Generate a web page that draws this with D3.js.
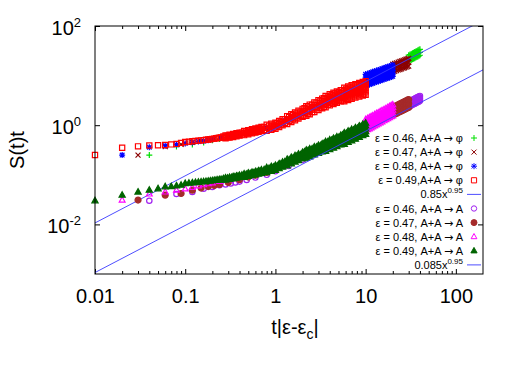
<!DOCTYPE html>
<html>
<head>
<meta charset="utf-8">
<script src="https://cdn.jsdelivr.net/npm/d3@7"></script>
<style>
  body { margin: 0; background: #fff; }
  text { font-family: "Liberation Sans", Arial, sans-serif; fill: #000; }
</style>
</head>
<body>
<svg id="chart" width="523" height="366"></svg>
<script>
// rows are [t|eps-eps_c|, S(t)t, S(t)t, ...] (several readings at the same x where the cloud is thick)
let phi46 = [
	[0.04,0.25],[0.08,0.37],[0.12,0.41],[0.16,0.45],[0.2,0.5],[0.24,0.53],[0.28,0.57],[0.4,0.66],[0.6,0.78],[0.8,0.88],
	[1,0.98],[1.5,1.4],[2,1.78],[3,2.55],[4,3.3],[6,4.5],[8,5.6],[10,7.5],[13,9.6],[16,11.5],[20,14],[24,16],[28,18],
	[30,19.5,22.4,25.8],[31,20.1,23.1,26.6],[32,20.7,23.8,27.4],[33,21.3,24.5,28.2],[34,21.9,25.2,29.0],[35,22.5,25.9,29.8],
	[36,23.2,26.7,30.7],[37,23.8,27.4,31.5],[38,24.4,28.1,32.3],[39,25.0,28.8,33.1],[40,25.7,29.5,33.9]
]
let phi47 = [
	[0.03,0.25],[0.06,0.37],[0.09,0.41],[0.12,0.45],[0.15,0.48],[0.18,0.51],[0.21,0.53],[0.24,0.56],[0.3,0.60],[0.4,0.66],
	[0.5,0.72],[0.6,0.78],[0.8,0.88],[1,0.98],[1.5,1.4],[2,1.78],[3,2.55],[4,3.3],[5,3.9],[6,4.5],[8,5.6],[10,7.0],
	[12,8.8],[14,10],[16,11.5],[18,12.8],
	[20,11.75,14.1,16.9],[21,12.2,14.6,17.5],[22,12.6,15.1,18.1],[23,13.0,15.6,18.7],[24,13.3,16.0,19.2],[25,13.7,16.4,19.7],
	[26,14.1,16.9,20.3],[27,14.4,17.3,20.8],[28,14.8,17.8,21.4],[29,15.2,18.2,21.8],[30,15.5,18.6,22.3]
]
let phi48 = [
	[0.02,0.25],[0.04,0.36],[0.06,0.385],[0.08,0.405],[0.10,0.43],[0.12,0.45],[0.14,0.47],[0.16,0.48],[0.18,0.50],[0.20,0.52],
	[0.25,0.55],[0.3,0.60],[0.4,0.66],[0.5,0.72],[0.6,0.78],[0.8,0.88],[1.0,0.98],[1.3,1.25],[1.6,1.48],[2.0,1.78],[2.5,2.2],
	[3,2.55],[4,3.3],[5,3.9],[6,4.4],[7,4.9],[8,5.4],[9,6.0],
	[10,6.25,7.13,8.13,9.27,10.6],[10.5,6.45,7.35,8.38,9.55,10.9],[11,6.64,7.57,8.63,9.84,11.2],[11.5,6.82,7.78,8.87,10.1,11.5],
	[12,7.02,8.0,9.12,10.4,11.9],[12.6,7.23,8.25,9.40,10.7,12.2],[13.2,7.45,8.49,9.68,11.0,12.6],[13.8,7.65,8.73,9.95,11.3,12.9],
	[14.5,7.89,9.0,10.26,11.7,13.3],[15.2,8.15,9.29,10.59,12.1,13.8],[16,8.42,9.6,10.94,12.5,14.2],[16.8,8.67,9.89,11.27,12.8,14.7],
	[17.6,8.93,10.2,11.61,13.2,15.1],[18.4,9.18,10.5,11.94,13.6,15.5],[19.2,9.42,10.7,12.25,14.0,15.9],[20,9.68,11.0,12.59,14.4,16.4]
]
let phi49 = [
	[0.01,0.25],[0.02,0.35],[0.03,0.375],[0.04,0.39],[0.05,0.395],[0.06,0.40],[0.07,0.41],[0.08,0.42],[0.09,0.44],
	[0.10,0.457],[0.11,0.466],[0.12,0.474],[0.13,0.482],[0.14,0.489],[0.15,0.495],[0.16,0.501],[0.17,0.508],[0.18,0.515],
	[0.19,0.522],[0.20,0.53],[0.21,0.537],[0.22,0.544],[0.23,0.551],[0.24,0.557],[0.25,0.564],
	[0.265,0.554,0.592],[0.28,0.544,0.582,0.623],[0.295,0.572,0.611],[0.31,0.561,0.600,0.642],[0.325,0.590,0.631],
	[0.34,0.580,0.621,0.664],[0.355,0.610,0.652],[0.37,0.599,0.641,0.686],[0.385,0.630,0.673],[0.40,0.619,0.662,0.708],
	[0.425,0.645,0.710],[0.45,0.630,0.693,0.762],[0.475,0.675,0.743],[0.50,0.658,0.724,0.796],[0.525,0.704,0.774],
	[0.55,0.684,0.752,0.827],[0.575,0.730,0.804],[0.60,0.709,0.780,0.858],[0.625,0.756,0.832],[0.65,0.734,0.807,0.888],
	[0.675,0.783,0.861],[0.70,0.760,0.836,0.920],[0.75,0.802,0.922],[0.80,0.770,0.885,1.018],[0.85,0.848,0.974],
	[0.90,0.811,0.933,1.073],[0.95,0.891,1.024],[1.0,0.850,0.977,1.124],[1.05,0.950,1.092],[1.1,0.923,1.062,1.221],
	[1.15,1.030,1.183],[1.2,0.998,1.148,1.320],[1.27,1.102,1.322],[1.35,1.058,1.27,1.524],[1.42,1.214,1.455],
	[1.5,1.158,1.39,1.668],[1.57,1.323,1.587],[1.65,1.258,1.51,1.812],[1.72,1.433,1.718],[1.8,1.358,1.63,1.956],
	[1.9,1.555,1.865],[2.0,1.483,1.78,2.136],[2.1,1.569,1.754,1.96,2.19],[2.2,1.544,1.93,2.41],[2.3,1.695,1.896,2.12,2.37],
	[2.4,1.664,2.08,2.60],[2.55,1.85,2.07,2.31,2.585],[2.7,1.84,2.30,2.875],[2.85,2.045,2.287,2.555,2.857],
	[3.0,2.032,2.54,3.175],[3.15,2.236,2.50,2.794,3.124],[3.3,2.20,2.75,3.44],[3.45,2.357,2.685,3.063,3.49],
	[3.6,2.30,2.62,2.99,3.41,3.89],[3.8,2.565,2.923,3.334,3.80],[4.0,2.51,2.86,3.26,3.72,4.24],[4.2,2.763,3.149,3.592,4.093],
	[4.4,2.67,3.04,3.47,3.96,4.51],[4.6,2.933,3.342,3.812,4.343],[4.8,2.82,3.22,3.67,4.18,4.77],[5.05,3.117,3.551,4.051,4.616],
	[5.3,3.02,3.44,3.92,4.47,5.10],[5.55,3.186,3.727,4.364,5.106],[5.8,3.03,3.55,4.15,4.86,5.69],[6.1,3.383,3.958,4.634,5.422],
	[6.4,3.23,3.78,4.42,5.17,6.06],[6.7,3.592,4.203,4.921,5.758],[7.0,3.42,4.0,4.68,5.48,6.41],[7.35,3.791,4.435,5.193,6.075],
	[7.7,3.59,4.21,4.92,5.76,6.74],[8.1,3.991,4.670,5.467,6.397],[8.5,3.79,4.44,5.19,6.07,7.11],[8.9,4.193,4.907,5.744,6.721],
	[9.3,3.96,4.64,5.43,6.35,7.44],[9.65,4.363,5.105,5.977,6.993],[10,4.10,4.80,5.62,6.58,7.70]
]
let a46 = [
	[0.04,0.030],[0.08,0.041],[0.12,0.045],[0.16,0.0525],[0.2,0.057],[0.24,0.0617],[0.28,0.064],[0.32,0.067],[0.36,0.070],
	[0.4,0.073],[0.48,0.079],[0.6,0.088],[0.8,0.10],[1.0,0.118],[1.4,0.15],[2,0.20],[3,0.29],[4,0.37],[6,0.52],[8,0.68],
	[10,0.85],[14,1.2],[18,1.55],[22,1.9],[26,2.2],
	[30,2.35,2.63,2.95],[31,2.42,2.71,3.04],[32,2.50,2.80,3.14],[33,2.57,2.88,3.23],[34,2.64,2.96,3.32],[35,2.72,3.05,3.42],
	[36,2.79,3.13,3.51],[37,2.87,3.21,3.60],[38,2.95,3.30,3.70],[39,3.02,3.38,3.79],[40,3.10,3.47,3.89]
]
let a47 = [
	[0.03,0.031],[0.06,0.039],[0.09,0.042],[0.12,0.049],[0.15,0.054],[0.18,0.058],[0.21,0.061],[0.24,0.064],[0.3,0.070],
	[0.4,0.080],[0.5,0.090],[0.6,0.098],[0.8,0.112],[1.0,0.128],[1.3,0.158],[1.6,0.19],[2,0.235],[2.5,0.28],[3,0.32],
	[4,0.40],[5,0.47],[6,0.54],[8,0.70],[10,0.88],[12,1.05],[14,1.2],[16,1.4],[18,1.6],
	[20,1.59,1.91,2.29],[21,1.66,1.99,2.39],[22,1.725,2.07,2.48],[23,1.80,2.16,2.59],[24,1.87,2.24,2.69],[25,1.94,2.33,2.80],
	[26,2.01,2.41,2.89],[27,2.08,2.50,3.0],[28,2.15,2.58,3.10],[29,2.22,2.66,3.19],[30,2.28,2.74,3.29]
]
let a48 = [
	[0.02,0.031],[0.04,0.041],[0.06,0.045],[0.08,0.049],[0.10,0.052],[0.12,0.056],[0.14,0.060],[0.16,0.063],[0.18,0.066],
	[0.2,0.069],[0.24,0.074],[0.3,0.080],[0.4,0.088],[0.5,0.096],[0.6,0.104],[0.8,0.118],[1.0,0.132],[1.3,0.165],[1.6,0.198],
	[2,0.24],[2.5,0.29],[3,0.33],[4,0.40],[5,0.48],[6,0.55],[7,0.62],[8,0.70],[9,0.76],
	[10,0.77,0.877,1.0,1.14,1.3],[10.5,0.81,0.921,1.05,1.20,1.365],[11,0.846,0.965,1.10,1.25,1.43],[11.5,0.885,1.01,1.15,1.31,1.495],
	[12,0.923,1.05,1.20,1.37,1.56],[12.6,0.97,1.105,1.26,1.44,1.64],[13.2,1.015,1.16,1.32,1.50,1.72],[13.8,1.06,1.21,1.38,1.57,1.79],
	[14.5,1.115,1.27,1.45,1.65,1.885],[15.2,1.17,1.33,1.52,1.73,1.98],[16,1.23,1.40,1.60,1.82,2.08],[16.8,1.29,1.47,1.68,1.92,2.18],
	[17.6,1.35,1.54,1.76,2.01,2.29],[18.4,1.415,1.61,1.84,2.10,2.39],[19.2,1.48,1.68,1.92,2.19,2.50],[20,1.54,1.75,2.0,2.28,2.6]
]
let a49 = [
	[0.01,0.030],[0.02,0.039],[0.03,0.045],[0.04,0.049],[0.05,0.0525],[0.06,0.0575],[0.07,0.058],[0.08,0.060],[0.09,0.062],
	[0.10,0.0668],[0.11,0.0679],[0.12,0.069],[0.13,0.070],[0.14,0.071],[0.15,0.0719],[0.16,0.0727],[0.17,0.0735],[0.18,0.0744],
	[0.19,0.0753],[0.20,0.0762],[0.21,0.0771],[0.22,0.078],[0.23,0.0789],[0.24,0.0797],[0.25,0.0805],
	[0.265,0.0795,0.0835],[0.28,0.0787,0.0826,0.0867],[0.295,0.0816,0.0857],[0.31,0.0807,0.0847,0.0889],[0.325,0.0839,0.0882],
	[0.34,0.0831,0.0873,0.0917],[0.355,0.0864,0.0908],[0.37,0.0857,0.0900,0.0945],[0.385,0.0891,0.0936],[0.40,0.0883,0.0927,0.0973],
	[0.425,0.0911,0.0983],[0.45,0.0894,0.0966,0.1043],[0.475,0.0948,0.1023],[0.50,0.0931,0.1005,0.1085],[0.525,0.0984,0.1062],
	[0.55,0.0963,0.104,0.1123],[0.575,0.1018,0.1099],[0.60,0.0996,0.1076,0.1162],[0.625,0.1055,0.1139],[0.65,0.1034,0.1117,0.1206],
	[0.675,0.1095,0.1182],[0.70,0.1073,0.1159,0.1252],[0.75,0.1132,0.1268],[0.80,0.1106,0.1239,0.1388],[0.85,0.1205,0.1349],
	[0.90,0.1171,0.1312,0.1469],[0.95,0.1272,0.1424],[1.0,0.1232,0.138,0.1546],[1.05,0.1355,0.1517],[1.1,0.133,0.149,0.1669],
	[1.15,0.1464,0.1639],[1.2,0.1438,0.161,0.1803],[1.27,0.1567,0.1818],[1.35,0.1526,0.177,0.2053],[1.42,0.1721,0.1996],
	[1.5,0.1672,0.194,0.225],[1.57,0.1874,0.2173],[1.65,0.181,0.210,0.2436],[1.72,0.2022,0.2346],[1.8,0.1948,0.226,0.2622],
	[1.9,0.218,0.2529],[2.0,0.2103,0.244,0.283],[2.1,0.2201,0.2411,0.2643,0.2895],[2.2,0.2175,0.261,0.3132],
	[2.3,0.2349,0.2573,0.2821,0.309],[2.4,0.2317,0.278,0.3336],[2.55,0.253,0.2772,0.3038,0.3329],[2.7,0.2525,0.303,0.3636],
	[2.85,0.274,0.3002,0.3291,0.3605],[3.0,0.2717,0.326,0.3912],[3.15,0.2945,0.3226,0.3537,0.3875],[3.3,0.2917,0.350,0.42],
	[3.45,0.3061,0.3423,0.3824,0.4276],[3.6,0.2992,0.335,0.374,0.418,0.4675],[3.8,0.3294,0.3683,0.4115,0.4602],
	[4.0,0.324,0.362,0.405,0.453,0.5063],[4.2,0.3551,0.3971,0.4436,0.4961],[4.4,0.348,0.389,0.435,0.486,0.5438],
	[4.6,0.3811,0.4262,0.4762,0.5325],[4.8,0.3728,0.417,0.466,0.521,0.5825],[5.05,0.4088,0.4571,0.5107,0.5711],
	[5.3,0.4008,0.448,0.501,0.560,0.6263],[5.55,0.4266,0.4861,0.5545,0.6319],[5.8,0.4138,0.472,0.538,0.613,0.6994],
	[6.1,0.461,0.5253,0.5991,0.6827],[6.4,0.45,0.513,0.585,0.667,0.7605],[6.7,0.4993,0.5689,0.6489,0.7394],
	[7.0,0.4854,0.554,0.631,0.719,0.8203],[7.35,0.539,0.6142,0.7006,0.7984],[7.7,0.5246,0.598,0.682,0.777,0.8866],
	[8.1,0.5841,0.6656,0.7592,0.8652],[8.5,0.57,0.650,0.741,0.845,0.9633],[8.9,0.6326,0.7209,0.8223,0.937],
	[9.3,0.6154,0.702,0.80,0.912,1.04],[9.65,0.678,0.7726,0.8812,1.004],[10,0.6546,0.746,0.851,0.970,1.106]
]

let fitAmp = [0.85, 0.085]
let fitExp = 0.95

let xTicks = [0.01, 0.1, 1, 10, 100]
let xTickLabels = ['0.01', '0.1', '1', '10', '100']
let yTicks = [1e-2, 1e0, 1e2]
let yTickExp = ['-2', '0', '2']

let labels = [
	['ε = 0.46, A+A ', ' φ'], ['ε = 0.47, A+A ', ' φ'], ['ε = 0.48, A+A ', ' φ'], ['ε = 0.49,A+A ', ' φ'], null,
	['ε = 0.46, A+A ', ' A'], ['ε = 0.47, A+A ', ' A'], ['ε = 0.48, A+A ', ' A'], ['ε = 0.49, A+A ', ' A'], null
]

// plotting order follows the legend
let series = [
	{data: phi46, color: '#00e000', sym: 'plus'},
	{data: phi47, color: '#8b0000', sym: 'cross'},
	{data: phi48, color: '#0000ff', sym: 'star'},
	{data: phi49, color: '#ff0000', sym: 'square'},
	{fit: 0},
	{data: a46, color: '#a020f0', sym: 'circle'},
	{data: a47, color: '#a52a2a', sym: 'dot'},
	{data: a48, color: '#ff00ff', sym: 'triangle'},
	{data: a49, color: '#006400', sym: 'ftriangle'},
	{fit: 1}
]

let x0 = 95, x1 = 483, y0 = 26, y1 = 274
let x = d3.scaleLog().domain([0.01, 200]).range([x0, x1])
let y = d3.scaleLog().domain([1e-3, 1e2]).range([y1, y0])

let svg = d3.select('#chart')

svg.append('defs').append('clipPath').attr('id', 'clip')
	.append('rect').attr('x', x0).attr('y', y0).attr('width', x1 - x0).attr('height', y1 - y0)

let minorX = []
for (let d = 0.01; d < 200; d *= 10)
	for (let k = 2; k < 10; k++) if (d * k < 200) minorX.push(d * k)

// ticks (inward, mirrored)
let axisG = svg.append('g').attr('id', 'axes')
axisG.append('g').attr('transform', `translate(0,${y1})`)
	.call(d3.axisBottom(x).tickValues(xTicks).tickSize(-5).tickSizeOuter(0).tickPadding(15)
		.tickFormat((d, i) => xTickLabels[i]))
axisG.append('g').attr('transform', `translate(0,${y1})`)
	.call(d3.axisBottom(x).tickValues(minorX).tickSize(-3).tickSizeOuter(0).tickFormat(''))
axisG.append('g').attr('transform', `translate(0,${y0})`)
	.call(d3.axisTop(x).tickValues(xTicks).tickSize(-5).tickSizeOuter(0).tickFormat(''))
axisG.append('g').attr('transform', `translate(0,${y0})`)
	.call(d3.axisTop(x).tickValues(minorX).tickSize(-3).tickSizeOuter(0).tickFormat(''))
axisG.append('g').attr('transform', `translate(${x0},0)`)
	.call(d3.axisLeft(y).tickValues(yTicks).tickSize(-5).tickSizeOuter(0).tickFormat(''))
axisG.append('g').attr('transform', `translate(${x1},0)`)
	.call(d3.axisRight(y).tickValues(yTicks).tickSize(-5).tickSizeOuter(0).tickFormat(''))
axisG.selectAll('.domain').remove()
axisG.selectAll('.tick line').attr('stroke', '#000')
axisG.selectAll('.tick text').style('font-size', '20px').attr('fill', '#000')

let yLab = svg.append('g')
yTicks.forEach((v, i) => {
	let t = yLab.append('text')
		.attr('x', 81).attr('y', y(v) + 9)
		.attr('text-anchor', 'end')
		.style('font-size', '20px')
	t.append('tspan').text('10')
	t.append('tspan').attr('dy', -8).style('font-size', '13px').text(yTickExp[i])
})

// markers
let symPath = {
	plus: 'M-3,0H3M0,-3V3',
	cross: 'M-2.5,-2.5L2.5,2.5M-2.5,2.5L2.5,-2.5',
	star: 'M-3,0H3M0,-3V3M-2.3,-2.3L2.3,2.3M-2.3,2.3L2.3,-2.3',
	square: 'M-2.6,-2.6H2.6V2.6H-2.6Z',
	circle: 'M2.7,0A2.7,2.7 0 1,1 -2.7,0A2.7,2.7 0 1,1 2.7,0Z',
	dot: 'M3,0A3,3 0 1,1 -3,0A3,3 0 1,1 3,0Z',
	triangle: 'M0,-3.2L2.9,2L-2.9,2Z',
	ftriangle: 'M0,-3.4L3.1,2.1L-3.1,2.1Z'
}
let filled = {dot: true, ftriangle: true}

function drawMarker(g, sym, color, px, py, sw) {
	g.append('path')
		.attr('d', symPath[sym])
		.attr('transform', `translate(${px},${py})`)
		.attr('fill', filled[sym] ? color : 'none')
		.attr('stroke', color)
		.attr('stroke-width', sw)
}

let plot = svg.append('g').attr('id', 'data')
series.forEach(s => {
	if (s.fit !== undefined) {
		let a = fitAmp[s.fit]
		let ends = x.domain()
		plot.append('line')
			.attr('clip-path', 'url(#clip)')
			.attr('x1', x(ends[0])).attr('y1', y(a * Math.pow(ends[0], fitExp)))
			.attr('x2', x(ends[1])).attr('y2', y(a * Math.pow(ends[1], fitExp)))
			.attr('stroke', '#3a3aff').attr('stroke-width', 0.9)
		return
	}
	let pts = s.data.flatMap(([t, ...vals]) => vals.map(v => [t, v]))
	let g = plot.append('g')
	pts.forEach(p => drawMarker(g, s.sym, s.color, x(p[0]), y(p[1]), 1.2))
})

// frame
svg.append('rect')
	.attr('x', x0).attr('y', y0).attr('width', x1 - x0).attr('height', y1 - y0)
	.attr('fill', 'none').attr('stroke', '#000').attr('stroke-width', 1)

// legend
let leg = svg.append('g').attr('id', 'legend')
series.forEach((s, i) => {
	let ly = 138 + 14.1 * i
	let t = leg.append('text')
		.attr('x', 463).attr('y', ly + 4)
		.attr('text-anchor', 'end')
		.style('font-size', '11px')
	if (s.fit !== undefined) {
		t.append('tspan').text(String(fitAmp[s.fit]) + 'x')
		t.append('tspan').attr('dy', -5).style('font-size', '8px').text(String(fitExp))
		leg.append('line')
			.attr('x1', 467).attr('x2', 481).attr('y1', ly).attr('y2', ly)
			.attr('stroke', '#3a3aff').attr('stroke-width', 0.9)
	} else {
		t.append('tspan').text(labels[i][0])
		t.append('tspan').style('font-family', '"DejaVu Sans"').text('→')
		t.append('tspan').text(labels[i][1])
		drawMarker(leg, s.sym, s.color, 474, ly, 1)
	}
})

// axis titles
let xt = svg.append('text')
	.attr('x', 295).attr('y', 334)
	.attr('text-anchor', 'middle')
	.style('font-size', '20px')
xt.append('tspan').text('t|ε-ε')
xt.append('tspan').attr('dy', 5).style('font-size', '14px').text('c')
xt.append('tspan').attr('dy', -5).text('|')

svg.append('text')
	.attr('transform', 'translate(24,150) rotate(-90)')
	.attr('text-anchor', 'middle')
	.style('font-size', '20px')
	.text('S(t)t')
</script>
</body>
</html>
